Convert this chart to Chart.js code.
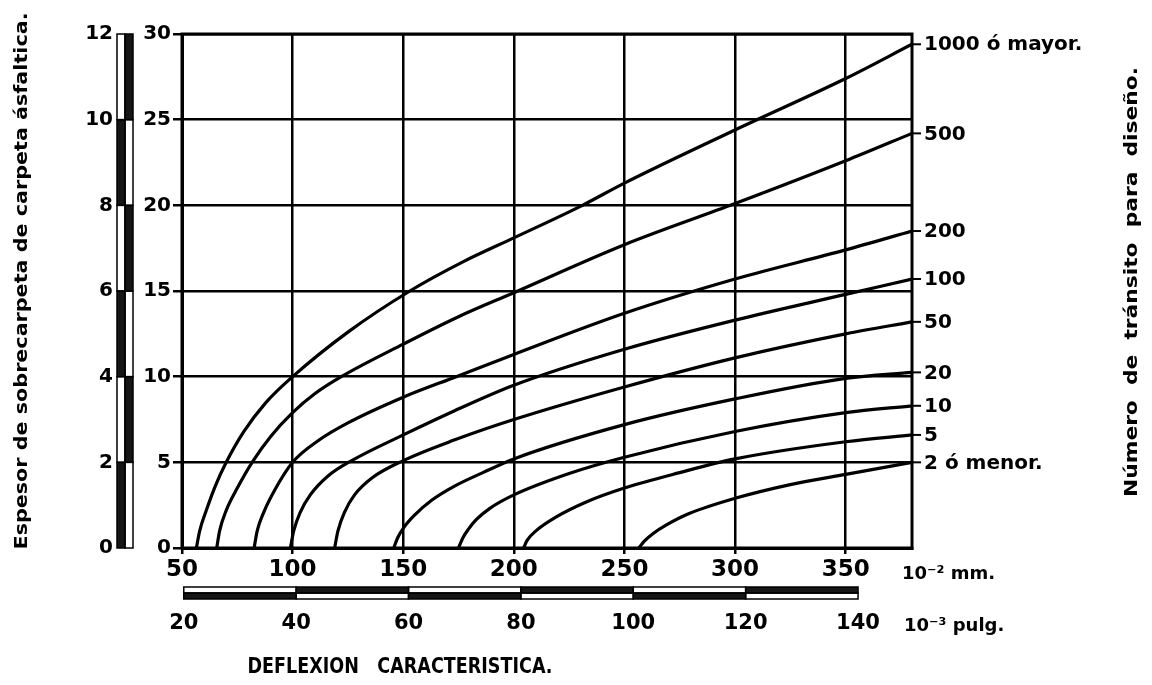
<!DOCTYPE html>
<html>
<head>
<meta charset="utf-8">
<script src="https://cdn.jsdelivr.net/npm/chart.js@4.4.1/dist/chart.umd.min.js"></script>
<style>
  html, body { margin: 0; padding: 0; background: #fff; }
</style>
</head>
<body>
<canvas id="chart" width="1152" height="685"></canvas>
<script>
// Each curve: [deflexion (10^-2 mm), espesor (cm)]
const curve1000 = [[56.5, 0], [58, 1], [61, 2.2], [65, 3.6], [70, 5], [78, 6.8], [88, 8.5], [100, 10], [125, 12.6], [153, 15], [177, 16.7], [200, 18.1], [231, 20], [250, 21.3], [300, 24.4], [350, 27.4], [380, 29.4]];
const curve500 = [[65.7, 0], [67, 1], [70, 2.2], [75, 3.5], [81.7, 5], [90, 6.5], [100, 7.9], [110, 9.0], [122, 10], [150, 11.9], [175, 13.5], [200, 14.9], [250, 17.7], [300, 20.1], [350, 22.6], [380, 24.2]];
const curve200 = [[82.6, 0], [84, 1], [87, 2.1], [92, 3.4], [100, 5], [112, 6.3], [125, 7.3], [150, 8.8], [174, 10], [200, 11.3], [250, 13.7], [300, 15.7], [350, 17.4], [380, 18.5]];
const curve100 = [[99, 0], [100.5, 1], [103.5, 2.1], [108, 3.1], [116, 4.2], [126.7, 5.1], [150, 6.6], [173, 8], [200, 9.5], [250, 11.6], [300, 13.3], [350, 14.8], [380, 15.7]];
const curve50 = [[119, 0], [120.5, 1], [123.5, 2.1], [128, 3.1], [136, 4.1], [150, 5.1], [173, 6.3], [200, 7.5], [250, 9.4], [300, 11.1], [350, 12.5], [380, 13.2]];
const curve20 = [[145.7, 0], [147.5, 0.6], [150, 1.15], [155, 1.9], [163, 2.8], [173, 3.6], [186, 4.4], [200, 5.2], [250, 7.2], [300, 8.7], [350, 9.9], [380, 10.25]];
const curve10 = [[175, 0], [177, 0.6], [179.5, 1.1], [183, 1.65], [189, 2.3], [200, 3.1], [225, 4.35], [250, 5.3], [300, 6.8], [350, 7.9], [380, 8.3]];
const curve5 = [[204.4, 0], [206, 0.45], [210, 1.0], [219, 1.8], [233, 2.7], [250, 3.5], [275, 4.4], [300, 5.2], [350, 6.2], [380, 6.6]];
const curve2 = [[256.5, 0], [259, 0.4], [263, 0.85], [269, 1.35], [279, 2.0], [300, 2.9], [325, 3.7], [350, 4.3], [380, 5.0]];

const curves = [curve1000, curve500, curve200, curve100, curve50, curve20, curve10, curve5, curve2];
const curveLabels = ['1000 ó mayor.', '500', '200', '100', '50', '20', '10', '5', '2 ó menor.'];

const mmTicks = [50, 100, 150, 200, 250, 300, 350];
const milTicks = [20, 40, 60, 80, 100, 120, 140];
const cmTicks = [0, 5, 10, 15, 20, 25, 30];
const inTicks = [0, 2, 4, 6, 8, 10, 12];

const FONT = 'DejaVu Sans';

function setTicks(list) {
    return function (scale) {
        scale.ticks = list.map(v => ({ value: v }));
    };
}

// draws text squeezed/stretched to a given length
function fitText(ctx, text, cx, cy, len, size, rot) {
    ctx.save();
    ctx.font = 'bold ' + size + 'px ' + FONT;
    ctx.textAlign = 'center';
    ctx.textBaseline = 'middle';
    ctx.translate(cx, cy);
    ctx.rotate(rot);
    const w = ctx.measureText(text).width;
    ctx.scale(len / w, 1);
    ctx.fillText(text, 0, 0);
    ctx.restore();
}

const decor = {
    id: 'decor',
    afterDraw(chart) {
        const ctx = chart.ctx;
        const area = chart.chartArea;
        const s = chart.scales;

        // frame
        ctx.save();
        ctx.strokeStyle = '#000';
        ctx.lineWidth = 3;
        ctx.strokeRect(area.left, area.top, area.right - area.left, area.bottom - area.top);

        // vertical bar scale (inches)
        const bx = s.yIn.right - 18;
        ctx.lineWidth = 1.5;
        for (let i = 0; i < inTicks.length - 1; i++) {
            const y0 = s.yIn.getPixelForValue(inTicks[i]);
            const y1 = s.yIn.getPixelForValue(inTicks[i + 1]);
            const fillLeft = i % 2 === 0;
            ctx.fillStyle = '#161616';
            ctx.fillRect(fillLeft ? bx : bx + 8, y1, 8, y0 - y1);
            ctx.strokeRect(bx, y1, 8, y0 - y1);
            ctx.strokeRect(bx + 8, y1, 8, y0 - y1);
        }

        // horizontal bar scale (10^-3 pulg)
        const by = s.x.bottom + 3;
        for (let i = 0; i < milTicks.length - 1; i++) {
            const x0 = s.x2.getPixelForValue(milTicks[i]);
            const x1 = s.x2.getPixelForValue(milTicks[i + 1]);
            const fillBottom = i % 2 === 0;
            ctx.fillStyle = '#161616';
            ctx.fillRect(x0, fillBottom ? by + 6 : by, x1 - x0, 6);
            ctx.strokeRect(x0, by, x1 - x0, 6);
            ctx.strokeRect(x0, by + 6, x1 - x0, 6);
        }

        // curve labels at right end
        ctx.fillStyle = '#000';
        ctx.font = 'bold 20px ' + FONT;
        ctx.textAlign = 'left';
        ctx.textBaseline = 'middle';
        chart.data.datasets.forEach((ds, i) => {
            const meta = chart.getDatasetMeta(i);
            const last = meta.data[meta.data.length - 1];
            ctx.lineWidth = 2;
            ctx.beginPath();
            ctx.moveTo(area.right, last.y);
            ctx.lineTo(area.right + 9, last.y);
            ctx.stroke();
            ctx.fillText(curveLabels[i], area.right + 12, last.y + 1);
        });

        // unit labels
        ctx.font = 'bold 18px ' + FONT;
        ctx.fillText('10⁻² mm.', 902, 574);
        ctx.fillText('10⁻³ pulg.', 904, 626);
        ctx.restore();

        // axis titles
        fitText(ctx, 'Espesor de sobrecarpeta de carpeta ásfaltica.', 23, 281, 537, 17, -Math.PI / 2);
        fitText(ctx, 'Número  de  tránsito  para  diseño.', 1133, 282, 430, 17, -Math.PI / 2);
        fitText(ctx, 'DEFLEXION   CARACTERISTICA.', 400, 668, 305, 21, 0);
    }
};

const ctx = document.getElementById('chart').getContext('2d');
new Chart(ctx, {
    type: 'line',
    data: {
        datasets: curves.map((c, i) => ({
            label: curveLabels[i],
            data: c.map(p => ({ x: p[0], y: p[1] })),
            borderColor: '#000',
            borderWidth: 3.2,
            pointRadius: 0,
            cubicInterpolationMode: 'monotone',
            fill: false
        }))
    },
    options: {
        responsive: false,
        animation: false,
        layout: { padding: { left: 85, right: 240, top: 33, bottom: 51 } },
        plugins: {
            legend: { display: false },
            tooltip: { enabled: false }
        },
        scales: {
            x: {
                type: 'linear',
                position: 'bottom',
                weight: 0,
                min: 50,
                max: 380,
                afterBuildTicks: setTicks(mmTicks),
                afterFit: s => { s.height = 36; },
                grid: { color: '#000', lineWidth: 2.5, tickLength: 6 },
                border: { color: '#000', width: 3 },
                ticks: { color: '#000', font: { family: FONT, weight: 'bold', size: 23 }, padding: 2, maxRotation: 0, autoSkip: false }
            },
            x2: {
                type: 'linear',
                position: 'bottom',
                weight: 1,
                min: 50 / 2.54,
                max: 380 / 2.54,
                afterBuildTicks: setTicks(milTicks),
                afterFit: s => { s.height = 50; },
                grid: { display: false, drawTicks: false },
                border: { display: false },
                ticks: { color: '#000', font: { family: FONT, weight: 'bold', size: 21 }, padding: 27, maxRotation: 0, autoSkip: false }
            },
            y: {
                type: 'linear',
                position: 'left',
                weight: 0,
                min: 0,
                max: 30,
                afterBuildTicks: setTicks(cmTicks),
                afterFit: s => { s.width = 47; },
                grid: { color: '#000', lineWidth: 2.5, tickLength: 9 },
                border: { color: '#000', width: 3 },
                ticks: { color: '#000', font: { family: FONT, weight: 'bold', size: 20 }, padding: 2, autoSkip: false }
            },
            yIn: {
                type: 'linear',
                position: 'left',
                weight: 1,
                min: 0,
                max: 12,
                afterBuildTicks: setTicks(inTicks),
                afterFit: s => { s.width = 50; },
                grid: { display: false, drawTicks: false },
                border: { display: false },
                ticks: { color: '#000', font: { family: FONT, weight: 'bold', size: 20 }, padding: 22, autoSkip: false }
            }
        }
    },
    plugins: [decor]
});
</script>
</body>
</html>
